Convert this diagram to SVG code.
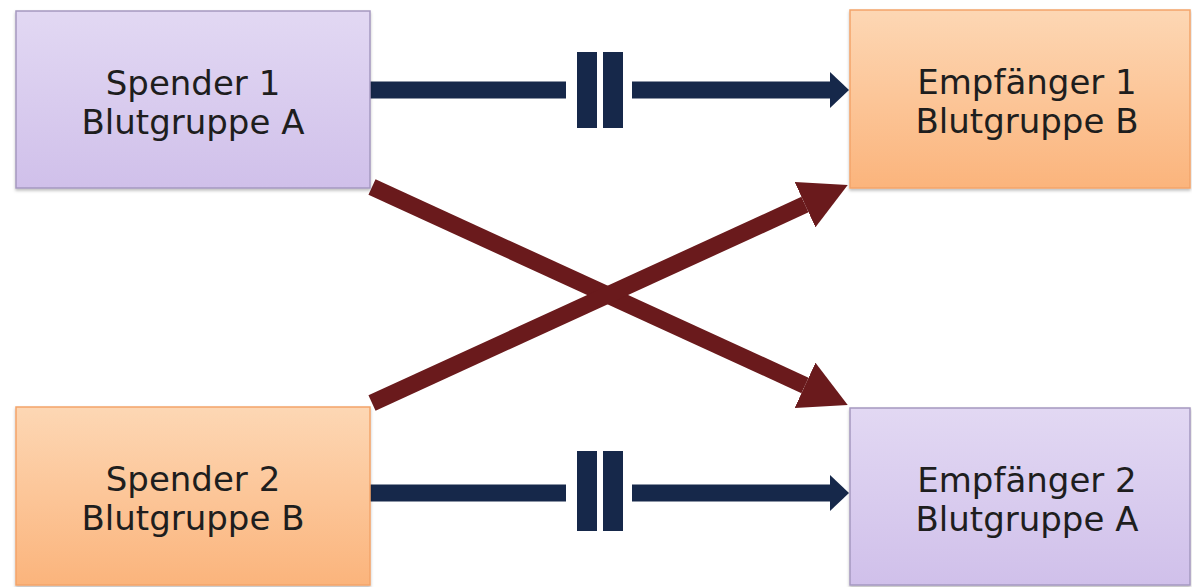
<svg xmlns="http://www.w3.org/2000/svg" width="1192" height="587" viewBox="0 0 1192 587">
  <defs>
    <linearGradient id="gPurple" x1="0" y1="0" x2="0" y2="1">
      <stop offset="0" stop-color="#e2d8f3"/>
      <stop offset="1" stop-color="#d0c0ea"/>
    </linearGradient>
    <linearGradient id="gOrange" x1="0" y1="0" x2="0" y2="1">
      <stop offset="0" stop-color="#fdd7b4"/>
      <stop offset="1" stop-color="#fbb47c"/>
    </linearGradient>
    <filter id="shadow" x="-5%" y="-5%" width="110%" height="115%">
      <feDropShadow dx="0" dy="2" stdDeviation="1.5" flood-color="#000000" flood-opacity="0.25"/>
    </filter>
    <marker id="headBlue" markerUnits="userSpaceOnUse" markerWidth="20" markerHeight="36" refX="0" refY="18" orient="auto">
      <path d="M0,0 L19,18 L0,36 z" fill="#16284a"/>
    </marker>
    <marker id="headRed" markerUnits="userSpaceOnUse" markerWidth="48" markerHeight="50" refX="0" refY="25" orient="auto">
      <path d="M0,0 L47,25 L0,50 z" fill="#6a1a1c"/>
    </marker>
  </defs>
  <style>
    .purple { fill: url(#gPurple); stroke: #a598c0; stroke-width: 1.5; filter: url(#shadow); }
    .orange { fill: url(#gOrange); stroke: #f3a46a; stroke-width: 1.5; filter: url(#shadow); }
    .label { font-family: "DejaVu Sans", Verdana, sans-serif; font-size: 34px; fill: #1e1e1e; text-anchor: middle; }
    .blue { stroke: #16284a; stroke-width: 17; fill: none; }
    .bar { fill: #16284a; }
    .red { stroke: #6a1a1c; stroke-width: 17; fill: none; }
  </style>
  <rect width="1192" height="587" fill="#ffffff"/>

  <g id="connectors">
    <line class="red" x1="372" y1="187" x2="805" y2="385.4" marker-end="url(#headRed)"/>
    <line class="red" x1="372" y1="403" x2="805" y2="204.6" marker-end="url(#headRed)"/>
    <line class="blue" x1="370" y1="90" x2="566" y2="90"/>
    <rect class="bar" x="577" y="52" width="20" height="76"/>
    <rect class="bar" x="603" y="52" width="20" height="76"/>
    <line class="blue" x1="632" y1="90" x2="830" y2="90" marker-end="url(#headBlue)"/>
    <line class="blue" x1="370" y1="493" x2="566" y2="493"/>
    <rect class="bar" x="577" y="451" width="20" height="80"/>
    <rect class="bar" x="603" y="451" width="20" height="80"/>
    <line class="blue" x1="632" y1="493" x2="830" y2="493" marker-end="url(#headBlue)"/>
  </g>

  <g id="spender1">
    <rect class="purple" x="16" y="11" width="354" height="177"/>
    <text class="label" x="193" y="95">Spender 1</text>
    <text class="label" x="193" y="134">Blutgruppe A</text>
  </g>
  <g id="empfaenger1">
    <rect class="orange" x="850" y="10" width="340" height="178"/>
    <text class="label" x="1027" y="94">Empfänger 1</text>
    <text class="label" x="1027" y="133">Blutgruppe B</text>
  </g>
  <g id="spender2">
    <rect class="orange" x="16" y="407" width="354" height="178"/>
    <text class="label" x="193" y="491">Spender 2</text>
    <text class="label" x="193" y="530">Blutgruppe B</text>
  </g>
  <g id="empfaenger2">
    <rect class="purple" x="850" y="408" width="340" height="177"/>
    <text class="label" x="1027" y="492">Empfänger 2</text>
    <text class="label" x="1027" y="531">Blutgruppe A</text>
  </g>
</svg>
